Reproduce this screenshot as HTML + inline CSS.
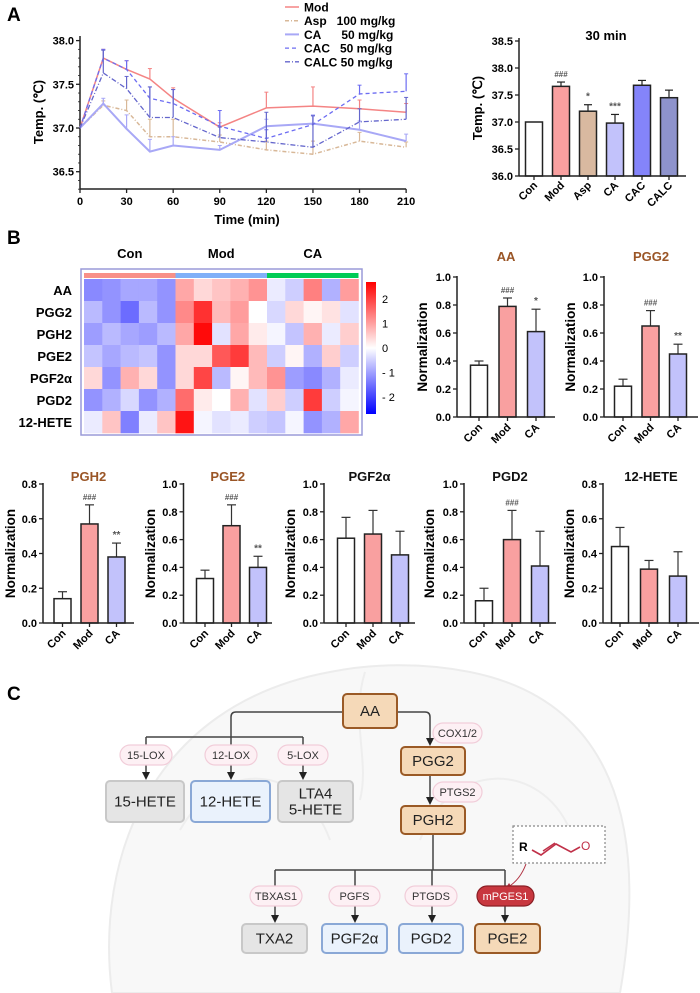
<!DOCTYPE html>
<html><head><meta charset="utf-8">
<style>
html,body{margin:0;padding:0;background:#fff;}
svg{display:block;font-family:"Liberation Sans",Arial,sans-serif;}
</style></head>
<body>
<svg id="fig" width="700" height="993" viewBox="0 0 700 993" xmlns="http://www.w3.org/2000/svg">
<defs>
<marker id="arr" markerWidth="8" markerHeight="8" refX="4" refY="4" orient="auto" markerUnits="userSpaceOnUse"><path d="M0,0 L8,4 L0,8 Z" fill="#222"/></marker>
<marker id="arrR" markerWidth="6" markerHeight="6" refX="3" refY="3" orient="auto" markerUnits="userSpaceOnUse"><path d="M0,0 L6,3 L0,6 Z" fill="#b03040"/></marker>
<linearGradient id="cbar" x1="0" y1="0" x2="0" y2="1">
<stop offset="0" stop-color="#ff0000"/><stop offset="0.5" stop-color="#ffffff"/><stop offset="1" stop-color="#0000ff"/>
</linearGradient>
</defs>
<g id="brainBg">
<path d="M112,993 C95,860 150,705 330,672 C370,664 420,662 470,672 C610,700 650,820 620,993 Z" fill="#f8f8f8" stroke="#ececec" stroke-width="2"/>
<path d="M365,672 C350,720 370,760 360,800" fill="none" stroke="#eeeeee" stroke-width="2"/>
<path d="M180,830 C220,760 300,760 330,840 M420,840 C450,760 540,760 570,830" fill="none" stroke="#eeeeee" stroke-width="2"/>
</g>
<g id="panelA"></g>
<g id="panelB"></g>
<g id="panelC"></g>
<text x="7" y="21" font-size="19" font-weight="bold">A</text>
<text x="7" y="244" font-size="19" font-weight="bold">B</text>
<text x="7" y="700" font-size="19" font-weight="bold">C</text>
</svg>
<script>
// ---------- Panel A line chart data ----------
const lineTimes=[0,15,30,45,60,90,120,150,180,210];
const modTemp=[37.0,37.80,37.67,37.56,37.34,37.01,37.23,37.25,37.22,37.18];
const modErr=[0,0.10,0.10,0.12,0.12,0.05,0.18,0.22,0.10,0.10];
const aspTemp=[37.0,37.26,37.20,36.90,36.90,36.84,36.75,36.70,36.85,36.78];
const aspErr=[0,0.05,0.12,0.20,0.20,0.08,0.10,0.15,0.10,0.06];
const caTemp=[37.0,37.28,36.99,36.73,36.80,36.75,37.02,37.05,36.98,36.85];
const caErr=[0,0.06,0.16,0.14,0.10,0.05,0.08,0.10,0.10,0.08];
const cacTemp=[37.0,37.80,37.67,37.34,37.28,37.02,36.88,37.04,37.39,37.42];
const cacErr=[0,0.10,0.10,0.13,0.16,0.18,0.10,0.10,0.10,0.20];
const calcTemp=[37.0,37.63,37.45,37.12,37.12,36.89,36.84,36.78,37.07,37.10];
const calcErr=[0,0.26,0.14,0.35,0.32,0.12,0.34,0.36,0.15,0.25];
const lineYTicks=[36.5,37.0,37.5,38.0];
const lineXTicks=[0,30,60,90,120,150,180,210];
// ---------- Panel A bar chart data ----------
const barGroups=['Con','Mod','Asp','CA','CAC','CALC'];
const barTemps=[37.0,37.66,37.2,36.98,37.68,37.45];
const barErrs=[0,0.08,0.12,0.16,0.09,0.14];
const barSig=['','###','*','***','',''];
const barYTicks=[36.0,36.5,37.0,37.5,38.0,38.5];
// ---------- Panel B heatmap data ----------
const heatRows=['AA','PGG2','PGH2','PGE2','PGF2\u03b1','PGD2','12-HETE'];
const heatGroups=['Con','Mod','CA'];
const heatVals=[
[-1.2,-1.1,-0.9,-0.9,-1.1, 0.9,0.4,0.6,0.8,1.1, -0.2,-0.5,1.3,-0.8,1.0],
[-0.7,-1.1,-1.5,-0.7,-1.1, 1.2,2.1,0.7,1.0,0.0, -0.4,0.4,0.1,0.3,-0.3],
[-1.0,-0.7,-0.9,-1.0,-0.7, 0.9,2.5,-0.3,0.9,0.2, -0.1,-0.6,0.8,-0.2,0.5],
[-0.6,-0.9,-0.7,-0.6,-1.1, 0.4,0.4,1.7,2.0,0.7, -0.5,0.1,-0.8,0.5,-0.5],
[0.4,-1.1,0.8,0.4,-1.1, 0.4,1.9,-0.7,0.1,0.7, 1.1,-1.0,-1.2,-0.8,-0.2],
[-1.1,-0.8,-0.4,-1.1,-0.8, 1.5,0.2,0.0,0.8,-0.3, 0.5,-0.5,2.0,-0.5,-0.1],
[-0.2,0.6,-1.3,-0.2,0.6, 2.4,-0.1,-0.3,-0.2,-0.5, -0.6,-0.1,-1.1,-0.8,0.9]
];
const cbarTicks=[2,1,0,-1,-2];
// ---------- Panel B small bar charts ----------
const bCats=['Con','Mod','CA'];
const aaVals=[0.37,0.79,0.61], aaErr=[0.03,0.06,0.16], aaSig=['','###','*'];
const pgg2Vals=[0.22,0.65,0.45], pgg2Err=[0.05,0.11,0.07], pgg2Sig=['','###','**'];
const pgh2Vals=[0.14,0.57,0.38], pgh2Err=[0.04,0.11,0.08], pgh2Sig=['','###','**'];
const pge2Vals=[0.32,0.70,0.40], pge2Err=[0.06,0.15,0.08], pge2Sig=['','###','**'];
const pgf2aVals=[0.61,0.64,0.49], pgf2aErr=[0.15,0.17,0.17], pgf2aSig=['','',''];
const pgd2Vals=[0.16,0.60,0.41], pgd2Err=[0.09,0.21,0.25], pgd2Sig=['','###',''];
const hete12Vals=[0.44,0.31,0.27], hete12Err=[0.11,0.05,0.14], hete12Sig=['','',''];

const NS='http://www.w3.org/2000/svg';
function mk(parent,tag,attrs,text){const e=document.createElementNS(NS,tag);for(const k in attrs)e.setAttribute(k,attrs[k]);if(text!==undefined)e.textContent=text;parent.appendChild(e);return e;}

// ===== Panel A line chart =====
(function(){
const g=document.getElementById('panelA');
const xA=t=>80+t*1.553, yA=v=>128-(v-37)*87.4;
const ax=mk(g,'g',{});


mk(ax,'line',{x1:80,y1:36,x2:80,y2:189,stroke:'#222','stroke-width':1.5});
mk(ax,'line',{x1:80,y1:189,x2:xA(210),y2:189,stroke:'#222','stroke-width':1.5});
lineYTicks.forEach(v=>{mk(ax,'line',{x1:76,x2:80,y1:yA(v),y2:yA(v),stroke:'#222','stroke-width':1.3});
 mk(ax,'text',{x:74,y:yA(v)+4,'text-anchor':'end','font-size':11,'font-weight':'bold'},v.toFixed(1));});
for(let v=36.3;v<38.05;v+=0.1){mk(ax,'line',{x1:78,x2:80,y1:yA(v),y2:yA(v),stroke:'#222','stroke-width':0.8});}
lineXTicks.forEach(t=>{mk(ax,'line',{x1:xA(t),x2:xA(t),y1:189,y2:193,stroke:'#222','stroke-width':1.3});
 mk(ax,'text',{x:xA(t),y:205,'text-anchor':'middle','font-size':11,'font-weight':'bold'},String(t));});
const xt=mk(g,'text',{x:247,y:224,'text-anchor':'middle','font-size':13,'font-weight':'bold'},'Time (min)');


const yt=mk(g,'text',{x:0,y:0,transform:'translate(43,112) rotate(-90)','text-anchor':'middle','font-size':13,'font-weight':'bold'},'Temp. (\u2103)');


const S='\u00a0';
const series=[
 {name:'Mod',v:modTemp,e:modErr,c:'#f48484',w:1.5,d:'',lab:'Mod'},
 {name:'Asp',v:aspTemp,e:aspErr,c:'#d8b898',w:1.5,d:'4,2,1,2',lab:'Asp'+S+S+S+'100 mg/kg'},
 {name:'CA',v:caTemp,e:caErr,c:'#a8a8f6',w:2,d:'',lab:'CA'+S+S+S+S+S+S+'50 mg/kg'},
 {name:'CAC',v:cacTemp,e:cacErr,c:'#6d6df2',w:1.3,d:'4,3',lab:'CAC'+S+S+S+'50 mg/kg'},
 {name:'CALC',v:calcTemp,e:calcErr,c:'#6466cc',w:1.3,d:'5,2,1,2',lab:'CALC'+S+'50 mg/kg'}];
series.forEach((s,si)=>{
 const sg=mk(g,'g',{});
 
 
 lineTimes.forEach((t,i)=>{if(s.e[i]>0){mk(sg,'line',{x1:xA(t),x2:xA(t),y1:yA(s.v[i]),y2:yA(s.v[i]+s.e[i]),stroke:s.c,'stroke-width':1.2});
  mk(sg,'line',{x1:xA(t)-2,x2:xA(t)+2,y1:yA(s.v[i]+s.e[i]),y2:yA(s.v[i]+s.e[i]),stroke:s.c,'stroke-width':1});}});
 const pts=lineTimes.map((t,i)=>xA(t)+','+yA(s.v[i])).join(' ');
 const pl=mk(sg,'polyline',{points:pts,fill:'none',stroke:s.c,'stroke-width':s.w,'stroke-dasharray':s.d});
 
 
 const ly=7+si*13.7;
 const le=mk(g,'g',{});
 
 
 mk(le,'line',{x1:285,x2:299,y1:ly,y2:ly,stroke:s.c,'stroke-width':s.w,'stroke-dasharray':s.d});
 mk(le,'text',{x:304,y:ly+4.5,'font-size':12,'font-weight':'bold'},s.lab);
});
// ===== Panel A bar chart =====
const yB=v=>176-(v-36)*54, xB=i=>534+i*27;
const bg=mk(g,'g',{});


const barCols=['#ffffff','#f9a0a0','#d9b9a0','#c2c2fb','#8484fa','#8e93cc'];
barGroups.forEach((n,i)=>{
 const top=yB(barTemps[i]);
 if(barErrs[i]>0){const et=yB(barTemps[i]+barErrs[i]);mk(bg,'line',{x1:xB(i),x2:xB(i),y1:top,y2:et,stroke:'#222','stroke-width':1.2});mk(bg,'line',{x1:xB(i)-4,x2:xB(i)+4,y1:et,y2:et,stroke:'#222','stroke-width':1.2});}
 const r=mk(bg,'rect',{x:xB(i)-8.5,y:top,width:17,height:176-top,fill:barCols[i],stroke:'#222','stroke-width':1.5});
 
 
 if(barSig[i]) mk(bg,'text',{x:xB(i),y:yB(barTemps[i]+barErrs[i])-5,'text-anchor':'middle','font-size':barSig[i][0]=='#'?8:10,fill:'#555','font-weight':'bold'},barSig[i]);
 mk(bg,'line',{x1:xB(i),x2:xB(i),y1:176,y2:180,stroke:'#222','stroke-width':1.3});
 mk(bg,'text',{x:0,y:0,transform:`translate(${xB(i)+4},${186}) rotate(-45)`,'text-anchor':'end','font-size':11,'font-weight':'bold'},n);
});
mk(bg,'line',{x1:519,y1:38,x2:519,y2:176,stroke:'#222','stroke-width':1.5});
mk(bg,'line',{x1:519,y1:176,x2:686,y2:176,stroke:'#222','stroke-width':1.5});
barYTicks.forEach(v=>{mk(bg,'line',{x1:515,x2:519,y1:yB(v),y2:yB(v),stroke:'#222','stroke-width':1.3});mk(bg,'text',{x:513,y:yB(v)+4,'text-anchor':'end','font-size':11,'font-weight':'bold'},v.toFixed(1));});
mk(bg,'text',{x:606,y:40,'text-anchor':'middle','font-size':13,'font-weight':'bold'},'30 min');
mk(bg,'text',{x:0,y:0,transform:'translate(482,108) rotate(-90)','text-anchor':'middle','font-size':13,'font-weight':'bold'},'Temp. (\u2103)');
})();

// ===== Panel B heatmap =====
(function(){
const g=document.getElementById('panelB');
const hm=mk(g,'g',{});


mk(hm,'rect',{x:81,y:269,width:281,height:166,fill:'#fff',stroke:'#9a9ad8','stroke-width':1.5});
const cw=18.3, rh=22, x0=84, y0=279;
const grpCols=['#f89088','#80b0f8','#00cc55'];
heatGroups.forEach((n,gi)=>{
 mk(hm,'rect',{x:x0+gi*5*cw,y:273,width:5*cw,height:5,fill:grpCols[gi]});
 const t=mk(hm,'text',{x:x0+gi*5*cw+2.5*cw,y:258,'text-anchor':'middle','font-size':13,'font-weight':'bold'},n);
 
 
});
const col=v=>{if(v>=0){const t=Math.min(v/2.6,1);const c=Math.round(255*(1-t));return `rgb(255,${c},${c})`;}const t=Math.min(-v/2.6,1);const c=Math.round(255*(1-t));return `rgb(${c},${c},255)`;};
heatRows.forEach((r,ri)=>{
 const l=mk(hm,'text',{x:72,y:y0+ri*rh+16,'text-anchor':'end','font-size':13,'font-weight':'bold'},r);
 
 
 heatVals[ri].forEach((v,ci)=>{
  const c=mk(hm,'rect',{x:x0+ci*cw,y:y0+ri*rh,width:cw+0.3,height:rh+0.3,fill:col(v)});
  
  
 });
});
const cb=mk(hm,'rect',{x:366,y:282,width:10,height:132,fill:'url(#cbar)'});


cbarTicks.forEach(v=>{mk(hm,'text',{x:382,y:348-v*24.5+4,'font-size':11},v<0?('- '+(-v)):String(v));});

function chart(name,title,tColor,vals,errs,sig,ax,y0p,yTopP,max,step,cx0,dx,xEnd,ylx,tOff){
 const c=mk(g,'g',{});
 
 
 const y=v=>y0p-(v/max)*(y0p-yTopP);
 const cols=['#ffffff','#f9a0a0','#c2c2fb'];
 bCats.forEach((n,i)=>{
  const cx=cx0+i*dx, top=y(vals[i]), et=y(vals[i]+errs[i]);
  mk(c,'line',{x1:cx,x2:cx,y1:top,y2:et,stroke:'#333','stroke-width':1.2});
  mk(c,'line',{x1:cx-4.5,x2:cx+4.5,y1:et,y2:et,stroke:'#333','stroke-width':1.2});
  const r=mk(c,'rect',{x:cx-8.5,y:top,width:17,height:y0p-top,fill:cols[i],stroke:'#222','stroke-width':1.5});
  
  
  if(sig[i]) mk(c,'text',{x:cx,y:et-5,'text-anchor':'middle','font-size':sig[i][0]=='#'?8:10,fill:'#555','font-weight':'bold'},sig[i]);
  mk(c,'line',{x1:cx,x2:cx,y1:y0p,y2:y0p+4,stroke:'#222','stroke-width':1.3});
  mk(c,'text',{x:0,y:0,transform:`translate(${cx+4},${y0p+11}) rotate(-45)`,'text-anchor':'end','font-size':11,'font-weight':'bold'},n);
 });
 mk(c,'line',{x1:ax,y1:yTopP-1,x2:ax,y2:y0p,stroke:'#222','stroke-width':1.5});
 mk(c,'line',{x1:ax,y1:y0p,x2:xEnd,y2:y0p,stroke:'#222','stroke-width':1.5});
 for(let v=0;v<=max+1e-9;v+=step){mk(c,'line',{x1:ax-4,x2:ax,y1:y(v),y2:y(v),stroke:'#222','stroke-width':1.3});
  mk(c,'text',{x:ax-6,y:y(v)+4,'text-anchor':'end','font-size':11,'font-weight':'bold'},v.toFixed(1));}
 mk(c,'text',{x:(ax+xEnd)/2,y:yTopP-tOff,'text-anchor':'middle','font-size':13,'font-weight':'bold',fill:tColor},title);
 mk(c,'text',{x:0,y:0,transform:`translate(${ylx+5},${(y0p+yTopP)/2}) rotate(-90)`,'text-anchor':'middle','font-size':13.5,'font-weight':'bold'},'Normalization');
}
const br='#9a5526';
chart('aa','AA',br,aaVals,aaErr,aaSig,457,417,277,1.0,0.2,479,28.5,555,422,16);
chart('pgg2','PGG2',br,pgg2Vals,pgg2Err,pgg2Sig,604,417,277,1.0,0.2,623,27.5,698,570,16);
chart('pgh2','PGH2',br,pgh2Vals,pgh2Err,pgh2Sig,43,623,484,0.8,0.2,62.5,27,134,10,3);
chart('pge2','PGE2',br,pge2Vals,pge2Err,pge2Sig,183.5,623,484,1.0,0.2,205,26.5,272,150,3);
chart('pgf2a','PGF2\u03b1','#111',pgf2aVals,pgf2aErr,pgf2aSig,324,623,484,1.0,0.2,346,27,415,290,3);
chart('pgd2','PGD2','#111',pgd2Vals,pgd2Err,pgd2Sig,464,623,484,1.0,0.2,484,28,556,429,3);
chart('12-hete','12-HETE','#111',hete12Vals,hete12Err,hete12Sig,603,623,484,0.8,0.2,620,29,699,569,3);
})();

// ===== Panel C pathway =====
(function(){
const g=document.getElementById('panelC');
const L=(d,extra)=>mk(g,'path',Object.assign({d:d,fill:'none',stroke:'#444','stroke-width':1.5},extra||{}));
L('M343,712 H236 Q231,712 231,717 V737');
L('M146,737 H303');
L('M146,737 V776',{'marker-end':'url(#arr)'});
L('M231,737 V776',{'marker-end':'url(#arr)'});
L('M303,737 V776',{'marker-end':'url(#arr)'});
L('M397,712 H425 Q430,712 430,717 V742',{'marker-end':'url(#arr)'});
L('M430,775 V801',{'marker-end':'url(#arr)'});
L('M433,834 V870');
L('M275,870 H505');
[275,355,432,505].forEach(x=>L(`M${x},870 V919`,{'marker-end':'url(#arr)'}));
mk(g,'path',{d:'M526,864 Q520,880 508,887',fill:'none',stroke:'#b03040','stroke-width':1,'marker-end':'url(#arrR)'});
function box(x,y,w,h,txt,fill,stroke,name,fs){
 const b=mk(g,'g',{});
 
 
 mk(b,'rect',{x:x,y:y,width:w,height:h,rx:4,fill:fill,stroke:stroke,'stroke-width':2});
 const lines=txt.split('\n');
 lines.forEach((t,i)=>mk(b,'text',{x:x+w/2,y:y+h/2+5+(i-(lines.length-1)/2)*16,'text-anchor':'middle','font-size':fs||15,fill:'#222'},t));
}
function pill(x,y,w,txt,name,red){
 const b=mk(g,'g',{});
 
 
 mk(b,'rect',{x:x,y:y,width:w,height:20,rx:10,fill:red?'#c8373f':'#fdf0f4',stroke:red?'#8a1f25':'#f1cdd9','stroke-width':1.2});
 mk(b,'text',{x:x+w/2,y:y+14,'text-anchor':'middle','font-size':11,fill:red?'#fff':'#333'},txt);
}
const tan='#f5d9b8', brn='#9a5a26', blu='#eaf2fc', bls='#8aa8d6', gr='#e5e5e5', grs='#c8c8c8';
box(343,694,54,34,'AA',tan,brn,'node-aa');
box(401,747,64,28,'PGG2',tan,brn,'node-pgg2');
box(401,806,64,28,'PGH2',tan,brn,'node-pgh2');
box(106,781,78,41,'15-HETE',gr,grs,'node-15-hete');
box(191,781,79,41,'12-HETE',blu,bls,'node-12-hete');
box(278,781,75,41,'LTA4\n5-HETE',gr,grs,'node-lta4-5-hete');
box(242,924,65,29,'TXA2',gr,grs,'node-txa2');
box(322,924,65,29,'PGF2\u03b1',blu,bls,'node-pgf2a');
box(399,924,64,29,'PGD2',blu,bls,'node-pgd2');
box(475,924,65,29,'PGE2',tan,brn,'node-pge2');
pill(120,745,52,'15-LOX','enzyme-15-lox');
pill(205,745,52,'12-LOX','enzyme-12-lox');
pill(278,745,50,'5-LOX','enzyme-5-lox');
pill(433,723,49,'COX1/2','enzyme-cox');
pill(433,782,49,'PTGS2','enzyme-ptgs2');
pill(250,886,52,'TBXAS1','enzyme-tbxas1');
pill(329,886,51,'PGFS','enzyme-pgfs');
pill(405,886,52,'PTGDS','enzyme-ptgds');
pill(477,886,57,'mPGES1','enzyme-mpges1',true);
const ch=mk(g,'g',{});


mk(ch,'rect',{x:513,y:826,width:92,height:37,fill:'#fff',stroke:'#888','stroke-width':1.2,'stroke-dasharray':'2,2'});
mk(ch,'text',{x:519,y:851,'font-size':12,'font-weight':'bold'},'R');
mk(ch,'path',{d:'M532,850 L541,855 L556,844 L571,852 L580,847',fill:'none',stroke:'#c03048','stroke-width':1.6});
mk(ch,'path',{d:'M543,851 L555,843',fill:'none',stroke:'#c03048','stroke-width':1.4});
mk(ch,'text',{x:581,y:850,'font-size':12,fill:'#c03048'},'O');
})();
</script>
</body></html>
